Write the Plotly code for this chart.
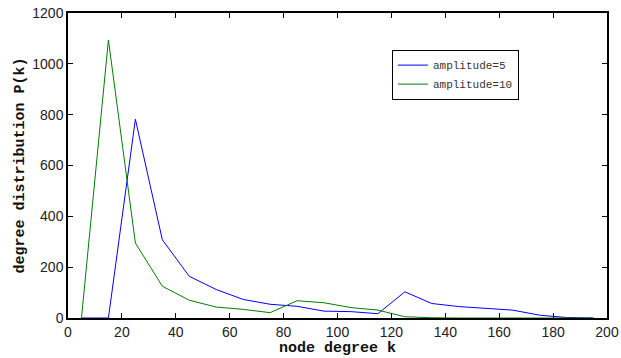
import plotly.graph_objects as go

# node degree bins (bin centres)
degree_k = [5, 15, 25, 35, 45, 55, 65, 75, 85, 95, 105, 115, 125, 135, 145, 155, 165, 175, 185, 195]
# degree distribution counts for each amplitude
pk_amp5 = [0, 0, 782, 308, 164, 112, 73, 54, 46, 27, 25, 17, 103, 57, 45, 38, 31, 11, 2, 0]
pk_amp10 = [0, 1094, 295, 125, 70, 43, 34, 21, 68, 60, 41, 31, 5, 1, 0, 0, 0, 0, 0, 0]

x_ticks = [0, 20, 40, 60, 80, 100, 120, 140, 160, 180, 200]
y_ticks = [0, 200, 400, 600, 800, 1000, 1200]

fig = go.Figure()
fig.add_trace(go.Scatter(x=degree_k, y=pk_amp5, mode="lines", name="amplitude=5",
                         line=dict(color="#0000ff", width=1)))
fig.add_trace(go.Scatter(x=degree_k, y=pk_amp10, mode="lines", name="amplitude=10",
                         line=dict(color="#008000", width=1)))

axis_common = dict(
    showgrid=False, zeroline=False, showline=True, linecolor="black", linewidth=1.5,
    mirror="ticks", ticks="inside", ticklen=5, tickcolor="black", automargin=False,
    tickfont=dict(family="Liberation Sans, Arial", size=14, color="#222"),
)

fig.update_layout(
    width=621, height=358,
    margin=dict(l=68, r=14, t=13, b=39.5),
    paper_bgcolor="white", plot_bgcolor="white",
    xaxis=dict(range=[0, 200], tickvals=x_ticks,
               title=dict(text="<b>node degree k</b>", standoff=0,
                          font=dict(family="Liberation Mono, Courier New", size=15, color="#111")),
               **axis_common),
    yaxis=dict(range=[0, 1200], tickvals=y_ticks,
               title=dict(text="<b>degree distribution P(k)</b>", standoff=4,
                          font=dict(family="Liberation Mono, Courier New", size=15, color="#111")),
               **axis_common),
    legend=dict(x=0.601, y=0.88, xanchor="left", yanchor="top",
                bordercolor="black", borderwidth=1, bgcolor="white",
                font=dict(family="Liberation Mono, Courier New", size=11, color="#333"),
                tracegroupgap=0, itemwidth=30),
    showlegend=True,
)

fig.write_html("out.html")
